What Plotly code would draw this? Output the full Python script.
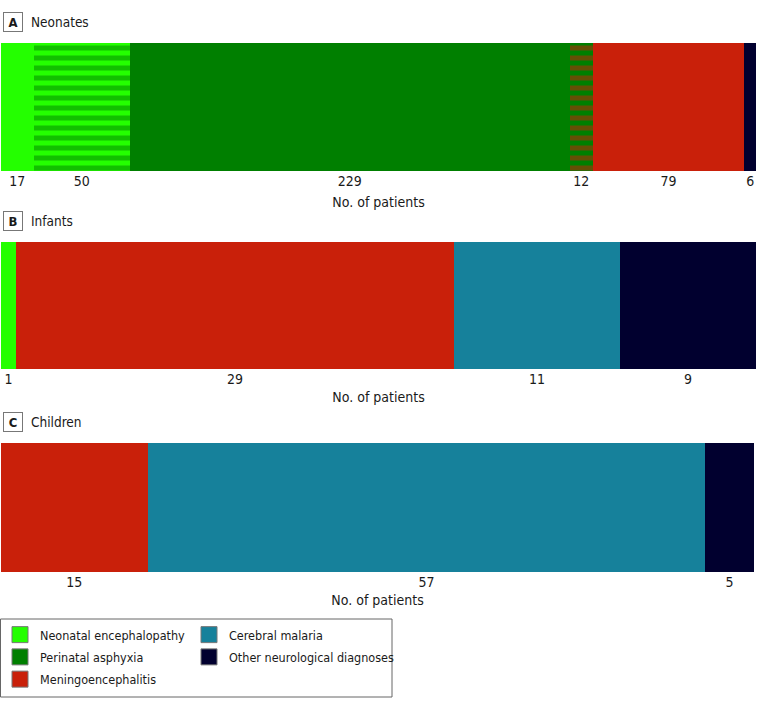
import numpy as np
import plotly.graph_objects as go

W, H = 783, 717

# ---------------- data ----------------
categories = ["Neonatal encephalopathy", "Perinatal asphyxia", "Meningoencephalitis",
              "Cerebral malaria", "Other neurological diagnoses"]
category_keys = ["NE", "PA", "ME", "CM", "OT"]

neonates_values = [17, 50, 229, 12, 79, 6]
neonates_segments = ["NE", "NE+PA", "PA", "PA+ME", "ME", "OT"]

infants_values = [1, 29, 11, 9]
infants_segments = ["NE", "ME", "CM", "OT"]

children_values = [15, 57, 5]
children_segments = ["ME", "CM", "OT"]

panel_letters = ["A", "B", "C"]
panel_names = ["Neonates", "Infants", "Children"]

# ---------------- style ----------------
colors = {"NE": "#24FF00", "PA": "#007F00", "ME": "#C9200A",
          "CM": "#16819B", "OT": "#01002F"}
FONT = "DejaVu Sans Condensed, Roboto"
TXT = "#1a1a1a"

fig = go.Figure()

panels = [
    (neonates_values, neonates_segments),
    (infants_values, infants_segments),
    (children_values, children_segments),
]

# pixel layout (from top) of each bar
bar_px = [(43, 171), (242, 369), (443, 572)]
x_px = [(1, 756), (1, 756), (1, 754)]
title_standoff = [9, 6, 6]

for i, (vals, segs) in enumerate(panels):
    ax = "" if i == 0 else str(i + 1)
    for v, s in zip(vals, segs):
        if "+" in s:
            a, b = s.split("+")
            marker = dict(color=colors[a],
                          pattern=dict(shape="-", fgcolor=colors[b], bgcolor=colors[a],
                                       size=10, solidity=0.5, fillmode="overlay"),
                          line=dict(width=0))
        else:
            marker = dict(color=colors[s], line=dict(width=0))
        fig.add_trace(go.Bar(
            x=[v], y=[0], orientation="h", width=1, marker=marker,
            showlegend=False, hoverinfo="x",
            xaxis="x" + ax, yaxis="y" + ax,
        ))
    cum = np.cumsum(vals)
    mids = cum - np.array(vals) / 2.0
    top, bot = bar_px[i]
    xl, xr = x_px[i]
    fig.update_layout(**{
        "xaxis" + ax: dict(
            domain=[xl / W, xr / W], range=[0, sum(vals)], anchor="y" + ax,
            showgrid=False, zeroline=False, showline=False, ticks="",
            tickmode="array", tickvals=mids.tolist(), ticktext=[str(v) for v in vals],
            tickfont=dict(family=FONT, size=14, color=TXT),
            title=dict(text="No. of patients", font=dict(family=FONT, size=14, color=TXT),
                       standoff=title_standoff[i]),
            automargin=False, fixedrange=True,
        ),
        "yaxis" + ax: dict(
            domain=[(H - bot) / H, (H - top) / H], range=[-0.5, 0.5], anchor="x" + ax,
            visible=False, fixedrange=True, automargin=False,
        ),
    })
    # panel header
    ty = top - 21
    fig.add_annotation(text="<b>%s</b>" % panel_letters[i], xref="paper", yref="paper",
                       x=12.5 / W, y=(H - ty) / H, xanchor="center", yanchor="middle",
                       showarrow=False, width=18, height=18, bordercolor="#777",
                       borderwidth=1, borderpad=0,
                       font=dict(family=FONT, size=13, color=TXT))
    fig.add_annotation(text=panel_names[i], xref="paper", yref="paper",
                       x=29 / W, y=(H - ty) / H, xanchor="left", yanchor="middle",
                       showarrow=False, font=dict(family=FONT, size=13.5, color=TXT))

# legend proxies (two columns)
for k, name in zip(category_keys, categories):
    col = "legend" if k in ("NE", "PA", "ME") else "legend2"
    fig.add_trace(go.Scatter(
        x=[None], y=[None], mode="markers", name=name, legend=col, legendgroup=k,
        marker=dict(symbol="square", size=16, color=colors[k],
                    line=dict(color="#777", width=1)),
        xaxis="x", yaxis="y", hoverinfo="skip",
    ))

leg_common = dict(orientation="v", yanchor="top", xanchor="left",
                  bgcolor="rgba(0,0,0,0)", borderwidth=0, traceorder="grouped",
                  font=dict(family=FONT, size=12.5, color=TXT),
                  itemsizing="trace", tracegroupgap=3,
                  xref="container", yref="container")
fig.update_layout(
    legend=dict(x=0, y=(H - 620) / H, **leg_common),
    legend2=dict(x=189 / W, y=(H - 620) / H, **leg_common),
)
fig.add_shape(type="rect", xref="paper", yref="paper",
              x0=0.5 / W, x1=392 / W, y0=(H - 697) / H, y1=(H - 619) / H,
              line=dict(color="#666", width=1), fillcolor="rgba(0,0,0,0)")

fig.update_layout(
    width=W, height=H, autosize=False,
    margin=dict(l=0, r=0, t=0, b=0, autoexpand=False),
    paper_bgcolor="white", plot_bgcolor="white",
    barmode="stack", bargap=0,
    showlegend=True,
    font=dict(family=FONT, size=14, color=TXT),
)

fig.write_html("out.html", config={"displayModeBar": False},
               post_script="document.body.style.margin='0';")
